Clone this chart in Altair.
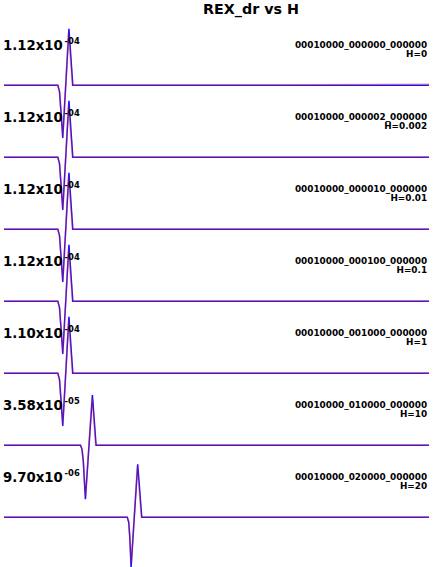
import altair as alt
import pandas as pd

# ---------------- data ----------------
run_ids = [
    "00010000_000000_000000",
    "00010000_000002_000000",
    "00010000_000010_000000",
    "00010000_000100_000000",
    "00010000_001000_000000",
    "00010000_010000_000000",
    "00010000_020000_000000",
]
h_labels = ["H=0", "H=0.002", "H=0.01", "H=0.1", "H=1", "H=10", "H=20"]
peak_mantissa = ["1.12x10", "1.12x10", "1.12x10", "1.12x10", "1.10x10", "3.58x10", "9.70x10"]
peak_exponent = ["-04", "-04", "-04", "-04", "-04", "-05", "-06"]

# time samples (ms) and normalised amplitude of each trace
t_a = [0.5, 25.7, 26.5, 27.4, 28.0, 30.9, 32.7, 199.5]
t_a_red = [0.5, 25.7, 26.5, 27.4, 28.1, 30.7, 32.5, 199.5]
blue_t = [t_a, t_a, t_a, t_a, t_a,
          [0.5, 36.3, 37.0, 37.6, 38.6, 41.9, 43.6, 199.5],
          [0.5, 58.2, 58.9, 59.4, 60.0, 63.1, 65.0, 199.5]]
blue_a = [[0, 0, -0.12, -0.60, -0.94, 1.00, 0.0, 0.0],
          [0, 0, -0.12, -0.60, -0.94, 1.00, 0.0, 0.0],
          [0, 0, -0.12, -0.60, -0.94, 1.00, 0.0, 0.0],
          [0, 0, -0.12, -0.60, -0.94, 1.00, 0.0, 0.0],
          [0, 0, -0.12, -0.60, -0.94, 1.00, 0.0, 0.0],
          [0, 0, -0.07, -0.27, -0.96, 0.89, 0.0, 0.0],
          [0, 0, -0.09, -0.36, -0.89, 0.94, 0.0, 0.0]]
red_t = [[0.5, 25.7, 26.5, 27.4, 28.1, 30.7, 32.5, 130.0, 199.5],
         t_a_red, t_a_red, t_a_red, t_a_red,
         [0.5, 36.3, 37.0, 37.6, 38.7, 41.7, 43.4, 199.5],
         [0.5, 58.2, 58.9, 59.4, 60.1, 62.9, 64.8, 199.5]]
red_a = [[0, 0, -0.12, -0.60, -0.90, 0.93, 0.0, 0.0, 0.02],
         [0, 0, -0.12, -0.60, -0.90, 0.93, 0.0, 0.0],
         [0, 0, -0.12, -0.60, -0.90, 0.93, 0.0, 0.0],
         [0, 0, -0.12, -0.60, -0.90, 0.93, 0.0, 0.0],
         [0, 0, -0.12, -0.60, -0.90, 0.93, 0.0, 0.0],
         [0, 0, -0.07, -0.27, -0.90, 0.85, 0.0, 0.0],
         [0, 0, -0.09, -0.36, -0.82, 0.90, 0.0, 0.0]]

title_text = "REX_dr vs H"

# ---------------- chart ----------------
FONT = "DejaVu Sans"
W, H = 433, 73
xs = alt.Scale(domain=[0, 200], nice=False, zero=False)
ys = alt.Scale(domain=[-0.32, 0.96], nice=False, zero=False)

panels = []
for i in range(len(run_ids)):
    df_b = pd.DataFrame({"t": blue_t[i], "a": blue_a[i]})
    df_r = pd.DataFrame({"t": red_t[i], "a": red_a[i]})
    blue = alt.Chart(df_b).mark_line(color="#1010ff", strokeWidth=1.5).encode(
        x=alt.X("t:Q", scale=xs, axis=None),
        y=alt.Y("a:Q", scale=ys, axis=None),
    )
    red = alt.Chart(df_r).mark_line(color="#ff2020", strokeWidth=1.7, opacity=0.33).encode(
        x=alt.X("t:Q", scale=xs, axis=None),
        y=alt.Y("a:Q", scale=ys, axis=None),
    )
    lab = pd.DataFrame({"m": [peak_mantissa[i]], "e": [peak_exponent[i]],
                        "r": [run_ids[i]], "h": [h_labels[i]]})
    mant = alt.Chart(lab).mark_text(font=FONT, fontWeight="bold", fontSize=13.5,
                                    align="left", baseline="alphabetic", color="black").encode(
        text="m:N", x=alt.value(0), y=alt.value(18.7))
    expo = alt.Chart(lab).mark_text(font=FONT, fontWeight="bold", fontSize=8.5,
                                    align="left", baseline="alphabetic", color="black").encode(
        text="e:N", x=alt.value(62.5), y=alt.value(13.1))
    run = alt.Chart(lab).mark_text(font=FONT, fontWeight="bold", fontSize=9,
                                   align="right", baseline="alphabetic", color="black").encode(
        text="r:N", x=alt.value(430), y=alt.value(17.1))
    hl = alt.Chart(lab).mark_text(font=FONT, fontWeight="bold", fontSize=9,
                                  align="right", baseline="alphabetic", color="black").encode(
        text="h:N", x=alt.value(430), y=alt.value(26.1))
    layers = [blue, red, mant, expo, run, hl]
    if i == 0:
        ttl = alt.Chart(pd.DataFrame({"t": [title_text]})).mark_text(
            font=FONT, fontWeight="bold", fontSize=14.5, align="center",
            baseline="alphabetic", color="black").encode(
            text="t:N", x=alt.value(251.5), y=alt.value(-17.3))
        layers.append(ttl)
    panels.append(alt.layer(*layers).properties(width=W, height=H))

chart = alt.vconcat(*panels, spacing=0, bounds="flush").properties(
    padding={"left": 0, "top": -2.4, "right": 0, "bottom": 0},
    background="white",
).configure_view(stroke=None)

chart.save("out.html", embed_options={"renderer": "svg", "actions": False})
